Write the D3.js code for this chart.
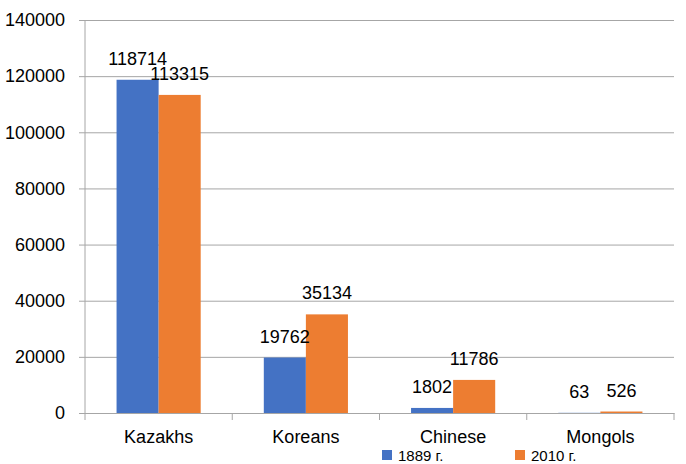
<!DOCTYPE html>
<html>
<head>
<meta charset="utf-8">
<script src="https://cdn.jsdelivr.net/npm/d3@7"></script>
<style>
  body { margin: 0; background: #fff; }
  text { font-family: "Liberation Sans", Arial, sans-serif; fill: #000; }
</style>
</head>
<body>
<div id="chart"></div>
<script>
// data
const categories = ["Kazakhs", "Koreans", "Chinese", "Mongols"];
const seriesNames = ["1889 г.", "2010 г."];
const values1889 = [118714, 19762, 1802, 63];
const values2010 = [113315, 35134, 11786, 526];
const yTicks = [0, 20000, 40000, 60000, 80000, 100000, 120000, 140000];
const colors = ["#4472C4", "#ED7D31"];

const W = 686, H = 464;
const margin = { top: 20, left: 85, right: 12, bottom: 51 };

const svg = d3.select("#chart").append("svg")
  .attr("width", W)
  .attr("height", H);

const x = d3.scaleBand()
  .domain(categories)
  .range([margin.left, W - margin.right])
  .paddingInner(0).paddingOuter(0);

const xSub = d3.scaleBand()
  .domain(seriesNames)
  .range([0, x.bandwidth()])
  .paddingInner(0)
  .paddingOuter(0.75);

const y = d3.scaleLinear()
  .domain([0, 140000])
  .range([H - margin.bottom, margin.top]);

// gridlines + y labels
const gy = svg.append("g").attr("transform", `translate(${margin.left},0)`)
  .call(d3.axisLeft(y).tickValues(yTicks).tickFormat(d3.format("d"))
    .tickSize(-(W - margin.left - margin.right)));
gy.select(".domain").remove();
gy.selectAll(".tick line").attr("stroke", "#a6a6a6").attr("x1", -6)
  .attr("x2", W - margin.left - margin.right);
gy.selectAll(".tick text").style("font-size", "18px")
  .style("font-family", "Liberation Sans, Arial, sans-serif").attr("x", -20);

// left axis line
svg.append("line")
  .attr("x1", margin.left).attr("x2", margin.left)
  .attr("y1", y(140000)).attr("y2", y(0))
  .attr("stroke", "#a6a6a6");

// category axis
const gx = svg.append("g").attr("transform", `translate(0,${y(0)})`)
  .call(d3.axisBottom(x).tickSize(0).tickPadding(17));
gx.select(".domain").attr("stroke", "#a6a6a6");
gx.selectAll(".tick text").style("font-size", "18px")
  .style("font-family", "Liberation Sans, Arial, sans-serif");
// tick marks at category boundaries
const bounds = categories.map(c => x(c)).concat([x(categories[categories.length - 1]) + x.bandwidth()]);
svg.append("g").selectAll("line").data(bounds).join("line")
  .attr("x1", d => d).attr("x2", d => d)
  .attr("y1", y(0)).attr("y2", y(0) + 7)
  .attr("stroke", "#a6a6a6");

// bars
const rows = categories.map((c, i) => ({
  cat: c,
  vals: [
    { s: seriesNames[0], v: values1889[i], c: colors[0] },
    { s: seriesNames[1], v: values2010[i], c: colors[1] }
  ]
}));

const grp = svg.append("g").selectAll("g").data(rows).join("g")
  .attr("transform", d => `translate(${x(d.cat)},0)`);

grp.selectAll("rect").data(d => d.vals).join("rect")
  .attr("x", d => xSub(d.s))
  .attr("y", d => y(d.v))
  .attr("width", xSub.bandwidth())
  .attr("height", d => y(0) - y(d.v))
  .attr("fill", d => d.c);

grp.selectAll("text.lbl").data(d => d.vals).join("text")
  .attr("class", "lbl")
  .attr("x", d => xSub(d.s) + xSub.bandwidth() / 2)
  .attr("y", d => y(d.v) - 15)
  .attr("text-anchor", "middle")
  .style("font-size", "18px")
  .text(d => d.v);

// legend at the bottom edge
const lg = svg.append("g").selectAll("g").data(seriesNames).join("g")
  .attr("transform", (d, i) => `translate(${382 + i * 133},449)`);
lg.append("rect").attr("width", 10).attr("height", 10).attr("y", 1).attr("fill", (d, i) => colors[i]);
lg.append("text").attr("x", 16).attr("y", 11.5).style("font-size", "15px").text(d => d);
</script>
</body>
</html>
